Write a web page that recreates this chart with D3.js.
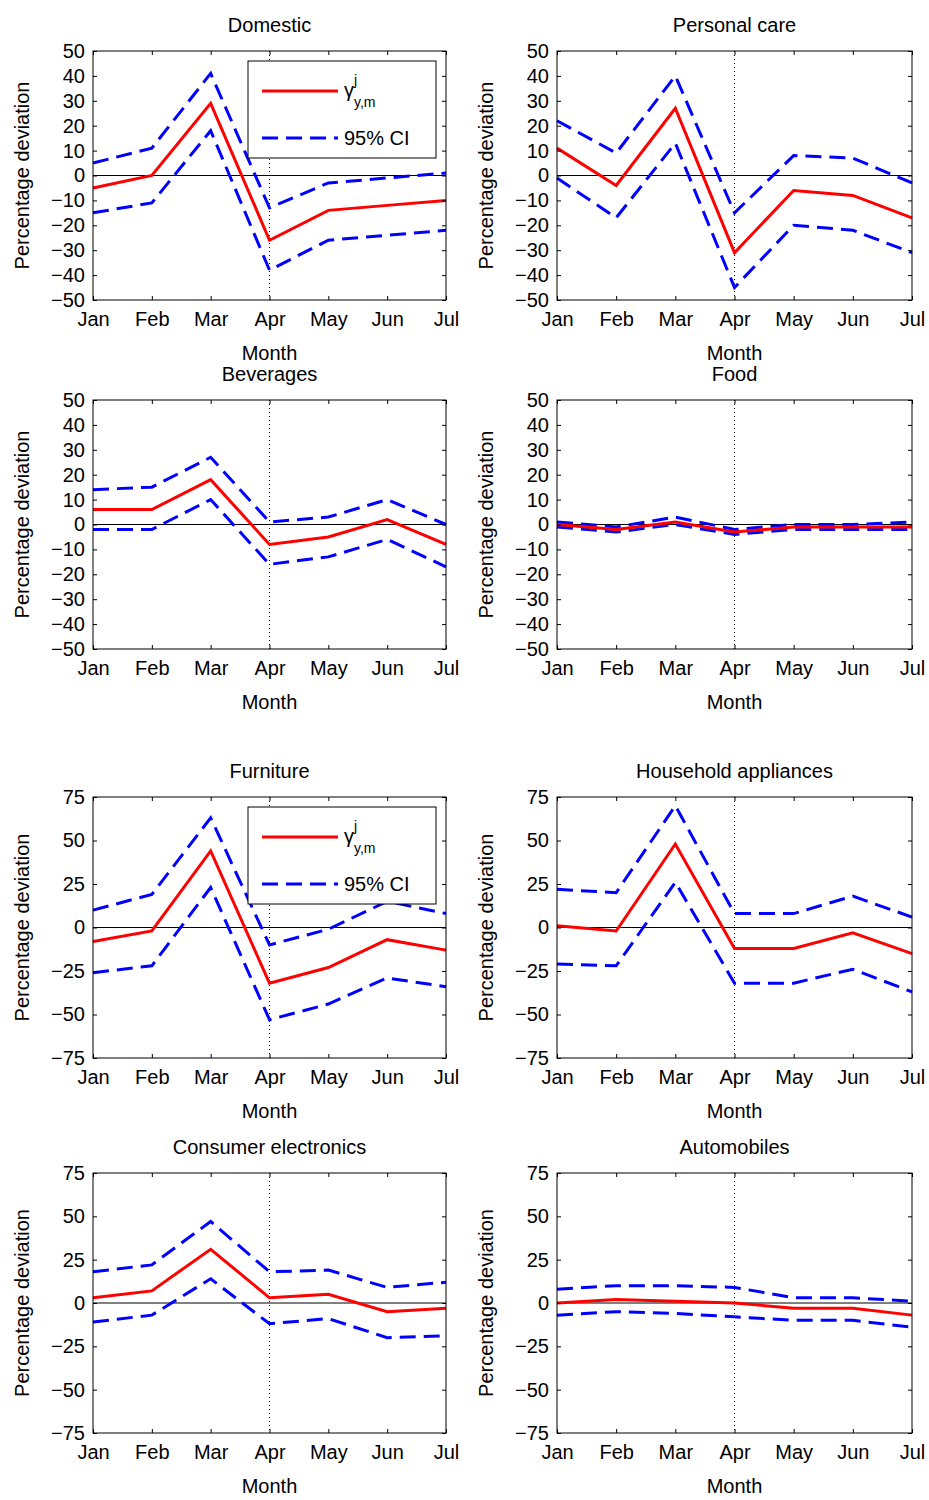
<!DOCTYPE html>
<html>
<head>
<meta charset="utf-8">
<style>
  body { margin: 0; background: #fff; }
  text { font-family: "Liberation Sans", Arial, sans-serif; fill: #000; }
</style>
</head>
<body>
<svg id="chart" width="929" height="1500"></svg>
<script src="https://d3js.org/d3.v7.min.js"></script>
<script>
var months = ['Jan', 'Feb', 'Mar', 'Apr', 'May', 'Jun', 'Jul'];
var ticksSmall = [50, 40, 30, 20, 10, 0, -10, -20, -30, -40, -50];
var ticksLarge = [75, 50, 25, 0, -25, -50, -75];

var domesticMean = [-5, 0, 29, -26, -14, -12, -10];
var domesticUp = [5, 11, 41, -13, -3, -1, 1];
var domesticLo = [-15, -11, 18, -38, -26, -24, -22];
var personalMean = [11, -4, 27, -31, -6, -8, -17];
var personalUp = [22, 9, 40, -15, 8, 7, -3];
var personalLo = [-1, -17, 13, -45, -20, -22, -31];
var beveragesMean = [6, 6, 18, -8, -5, 2, -8];
var beveragesUp = [14, 15, 27, 1, 3, 10, 0];
var beveragesLo = [-2, -2, 10, -16, -13, -6, -17];
var foodMean = [0, -2, 1, -3, -1, -1, -1];
var foodUp = [1, -1, 3, -2, 0, 0, 1];
var foodLo = [-1, -3, 0, -4, -2, -2, -2];
var furnitureMean = [-8, -2, 44, -32, -23, -7, -13];
var furnitureUp = [10, 19, 63, -10, -1, 15, 8];
var furnitureLo = [-26, -22, 23, -53, -44, -29, -34];
var householdMean = [1, -2, 48, -12, -12, -3, -15];
var householdUp = [22, 20, 70, 8, 8, 18, 6];
var householdLo = [-21, -22, 26, -32, -32, -24, -37];
var electronicsMean = [3, 7, 31, 3, 5, -5, -3];
var electronicsUp = [18, 22, 47, 18, 19, 9, 12];
var electronicsLo = [-11, -7, 14, -12, -9, -20, -19];
var autoMean = [0, 2, 1, 0, -3, -3, -7];
var autoUp = [8, 10, 10, 9, 3, 3, 1];
var autoLo = [-7, -5, -6, -8, -10, -10, -14];

var panels = [
  {title: 'Domestic', m: domesticMean, u: domesticUp, l: domesticLo, col: 0, top: 51, bot: 300, lim: 50, ticks: ticksSmall, legend: true},
  {title: 'Personal care', m: personalMean, u: personalUp, l: personalLo, col: 1, top: 51, bot: 300, lim: 50, ticks: ticksSmall},
  {title: 'Beverages', m: beveragesMean, u: beveragesUp, l: beveragesLo, col: 0, top: 400, bot: 649, lim: 50, ticks: ticksSmall},
  {title: 'Food', m: foodMean, u: foodUp, l: foodLo, col: 1, top: 400, bot: 649, lim: 50, ticks: ticksSmall},
  {title: 'Furniture', m: furnitureMean, u: furnitureUp, l: furnitureLo, col: 0, top: 797, bot: 1058, lim: 75, ticks: ticksLarge, legend: true},
  {title: 'Household appliances', m: householdMean, u: householdUp, l: householdLo, col: 1, top: 797, bot: 1058, lim: 75, ticks: ticksLarge},
  {title: 'Consumer electronics', m: electronicsMean, u: electronicsUp, l: electronicsLo, col: 0, top: 1173, bot: 1433, lim: 75, ticks: ticksLarge},
  {title: 'Automobiles', m: autoMean, u: autoUp, l: autoLo, col: 1, top: 1173, bot: 1433, lim: 75, ticks: ticksLarge}
];
var colX = [[93, 446], [557, 912]];
var FONT = '"Liberation Sans", Arial, sans-serif';

var svg = d3.select('#chart');

panels.forEach(function (p) {
  var x = d3.scalePoint().domain(months).range(colX[p.col]);
  var y = d3.scaleLinear().domain([-p.lim, p.lim]).range([p.bot, p.top]);
  var g = svg.append('g');
  var x0 = colX[p.col][0], x1 = colX[p.col][1];

  // zero line and April marker
  g.append('line').attr('x1', x0).attr('x2', x1).attr('y1', y(0)).attr('y2', y(0))
    .attr('stroke', '#000').attr('stroke-width', 1);
  g.append('line').attr('x1', x('Apr')).attr('x2', x('Apr')).attr('y1', p.top).attr('y2', p.bot)
    .attr('stroke', '#000').attr('stroke-dasharray', '1,3');

  var line = d3.line().x(function (d, i) { return x(months[i]); }).y(function (d) { return y(d); });
  [p.u, p.l].forEach(function (s) {
    g.append('path').attr('d', line(s)).attr('fill', 'none')
      .attr('stroke', '#0000ff').attr('stroke-width', 3).attr('stroke-dasharray', '16,8');
  });
  g.append('path').attr('d', line(p.m)).attr('fill', 'none')
    .attr('stroke', '#ff0000').attr('stroke-width', 3);

  // frame
  g.append('rect').attr('x', x0).attr('y', p.top).attr('width', x1 - x0).attr('height', p.bot - p.top)
    .attr('fill', 'none').attr('stroke', '#000');

  var ya = g.append('g').attr('transform', 'translate(' + x0 + ',0)')
    .call(d3.axisLeft(y).tickValues(p.ticks).tickSize(-4).tickPadding(8));
  ya.select('.domain').remove();
  ya.selectAll('text').style('font-size', '20px').attr('font-family', FONT);
  var ya2 = g.append('g').attr('transform', 'translate(' + x1 + ',0)')
    .call(d3.axisRight(y).tickValues(p.ticks).tickSize(-4).tickFormat(''));
  ya2.select('.domain').remove();

  var xa = g.append('g').attr('transform', 'translate(0,' + p.bot + ')')
    .call(d3.axisBottom(x).tickSize(-4).tickPadding(12));
  xa.select('.domain').remove();
  xa.selectAll('text').style('font-size', '20px').attr('font-family', FONT);
  var xa2 = g.append('g').attr('transform', 'translate(0,' + p.top + ')')
    .call(d3.axisTop(x).tickSize(-4).tickFormat(''));
  xa2.select('.domain').remove();

  var cx = (x0 + x1) / 2;
  g.append('text').attr('x', cx).attr('y', p.top - 19).attr('text-anchor', 'middle')
    .style('font-size', '20px').text(p.title);
  g.append('text').attr('x', cx).attr('y', p.bot + 60).attr('text-anchor', 'middle')
    .style('font-size', '20px').text('Month');
  g.append('text').attr('transform', 'translate(' + (x0 - 64) + ',' + ((p.top + p.bot) / 2) + ') rotate(-90)')
    .attr('text-anchor', 'middle').style('font-size', '20px').text('Percentage deviation');

  if (p.legend) {
    var lx = x0 + 155, ly = p.top + 10;
    var lg = g.append('g');
    lg.append('rect').attr('x', lx).attr('y', ly).attr('width', 188).attr('height', 97)
      .attr('fill', '#fff').attr('stroke', '#000');
    lg.append('line').attr('x1', lx + 14).attr('x2', lx + 90).attr('y1', ly + 30).attr('y2', ly + 30)
      .attr('stroke', '#ff0000').attr('stroke-width', 3);
    lg.append('line').attr('x1', lx + 14).attr('x2', lx + 90).attr('y1', ly + 77).attr('y2', ly + 77)
      .attr('stroke', '#0000ff').attr('stroke-width', 3).attr('stroke-dasharray', '16,8');
    lg.append('text').attr('x', lx + 96).attr('y', ly + 36).style('font-size', '20px').text('γ');
    lg.append('text').attr('x', lx + 106).attr('y', ly + 24).style('font-size', '14px').text('j');
    lg.append('text').attr('x', lx + 106).attr('y', ly + 46).style('font-size', '14px').text('y,m');
    lg.append('text').attr('x', lx + 96).attr('y', ly + 84).style('font-size', '20px').text('95% CI');
  }
});
</script>
</body>
</html>
